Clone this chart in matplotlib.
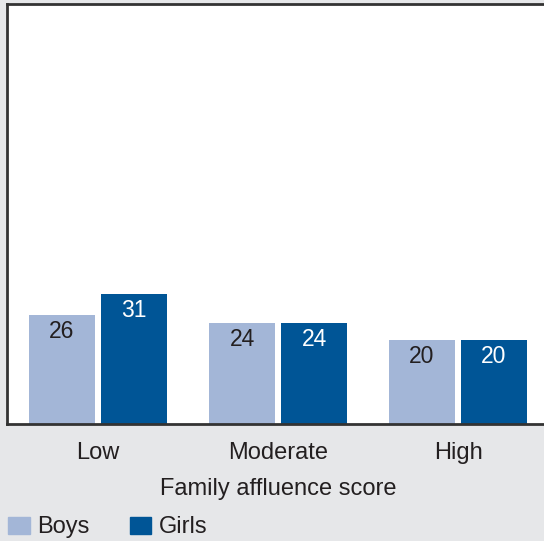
import matplotlib
matplotlib.use("Agg")
import matplotlib.pyplot as plt
import numpy as np

plt.rcParams["font.family"] = ["Liberation Sans", "DejaVu Sans"]

categories = ["Low", "Moderate", "High"]
boys = [26, 24, 20]
girls = [31, 24, 20]
series_names = ["Boys", "Girls"]

BG = "#e6e7e9"
C_BOYS = "#a3b6d7"
C_GIRLS = "#005596"
TXT = "#231f20"

W, H = 544, 541
fig = plt.figure(figsize=(W/100, H/100), dpi=100, facecolor=BG)
ax = fig.add_axes([7/W, 1 - 424/H, 1 - 7/W + 0.01, 420/H])
ax.set_facecolor("white")

x = np.arange(len(categories))
bw = 66/180
off = 36/180
b1 = ax.bar(x - off, boys, bw, color=C_BOYS, zorder=2)
b2 = ax.bar(x + off, girls, bw, color=C_GIRLS, zorder=2)

for rect, v in zip(b1, boys):
    ax.text(rect.get_x() + rect.get_width()/2, v - 4.0, str(v), ha="center", va="center",
            fontsize=16.5, color=TXT)
for rect, v in zip(b2, girls):
    ax.text(rect.get_x() + rect.get_width()/2, v - 4.0, str(v), ha="center", va="center",
            fontsize=16.5, color="white")

ax.set_xlim(-91/180, (544 - 98)/180 + 0.01*W/180)
ax.set_ylim(0, 100)
ax.set_yticks([])
ax.set_xticks(x)
ax.set_xticklabels(categories, fontsize=17, color=TXT)
ax.tick_params(axis="x", length=0, pad=13)
ax.set_xlabel("Family affluence score", fontsize=17, color=TXT, labelpad=10)
for s in ["left", "bottom", "top"]:
    ax.spines[s].set_color("#333333")
    ax.spines[s].set_linewidth(2)
ax.spines["right"].set_visible(False)

from matplotlib.patches import Patch
handles = [Patch(color=C_BOYS), Patch(color=C_GIRLS)]
leg = fig.legend(handles, series_names, loc="lower left", bbox_to_anchor=(0.0, -0.0105),
                 ncol=2, frameon=False, fontsize=17, handlelength=0.9, handleheight=0.72,
                 handletextpad=0.33, columnspacing=1.7, borderaxespad=0.15, borderpad=0.2)
for t in leg.get_texts():
    t.set_color(TXT)

fig.savefig("out.png", dpi=100, facecolor=BG)
